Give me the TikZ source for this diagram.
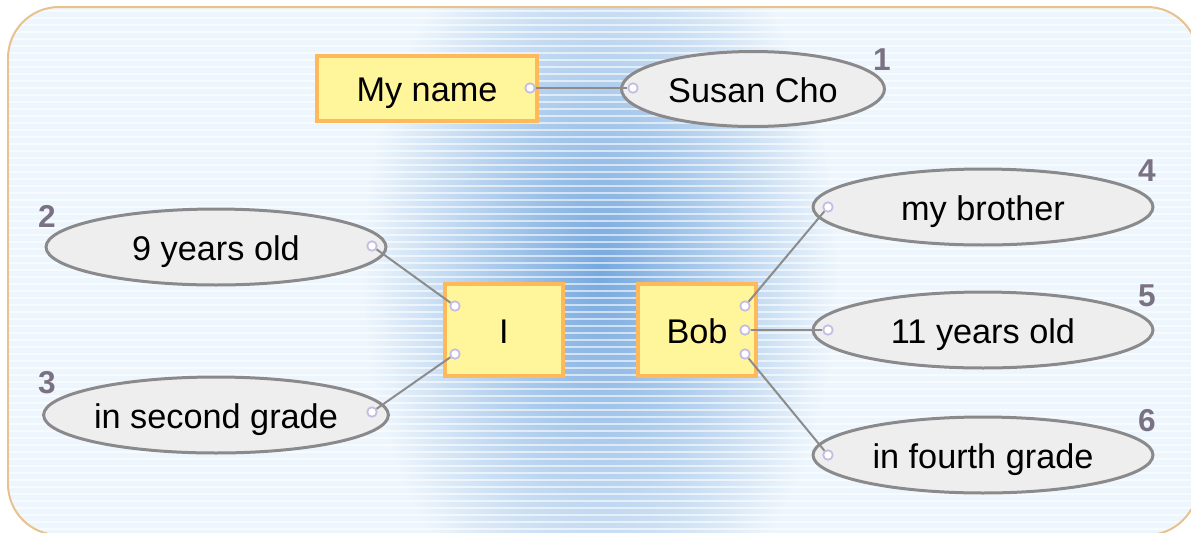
\documentclass[tikz,border=0pt]{standalone}
\usepackage{fontspec}
\setmainfont{Liberation Sans}
\usetikzlibrary{shapes.geometric}
\definecolor{bgfill}{RGB}{238,246,253}
\definecolor{frameline}{RGB}{232,194,140}
\definecolor{glow}{RGB}{118,168,222}
\definecolor{boxfill}{RGB}{255,245,155}
\definecolor{boxline}{RGB}{253,185,90}
\definecolor{ovalfill}{RGB}{238,238,238}
\definecolor{ovalline}{RGB}{138,138,140}
\definecolor{dotline}{RGB}{196,188,228}
\definecolor{numcol}{RGB}{122,114,132}
\begin{document}
\begin{tikzpicture}[x=0.02cm, y=-0.02cm,
    every node/.style={font=\fontsize{19.5}{23}\selectfont},
    label text/.style={text height=0.66cm, text depth=0.14cm},
    box/.style={label text, draw=boxline, fill=boxfill, line width=0.08cm, inner sep=0pt},
    oval/.style={label text, ellipse, draw=ovalline, fill=ovalfill, line width=0.06cm, inner sep=0pt,
        minimum width=6.8cm, minimum height=1.52cm},
    dot/.style={circle, draw=dotline, fill=white, line width=0.035cm, inner sep=0pt, minimum size=0.19cm},
    link/.style={draw=gray!90, line width=0.04cm},
    num/.style={text=numcol, font=\fontsize{18}{20}\selectfont\bfseries}]
\useasboundingbox (0,0) rectangle (1191,532);
% backdrop
\begin{scope}
    \clip[rounded corners=1.02cm] (8,7) rectangle (1198,535);
    \fill[bgfill] (8,7) rectangle (1198,535);
    \shade[inner color=glow, outer color=bgfill] (600,270) ellipse (4.8cm and 7.6cm);
    \foreach \yy in {11,18,...,530}
        \draw[white, line width=0.05cm, opacity=0.6] (8,\yy) -- (1198,\yy);
\end{scope}
\draw[frameline, line width=0.04cm, rounded corners=1.02cm] (8,7) rectangle (1198,535);

% boxes
\node[box, minimum width=4.42cm, minimum height=1.3cm] (name) at (427,88) {My name};
\node[box, minimum width=2.36cm, minimum height=1.84cm] (I) at (504,330) {I};
\node[box, minimum width=2.36cm, minimum height=1.84cm] (Bob) at (697,330) {Bob};

% ovals
\node[oval, minimum width=5.26cm, minimum height=1.5cm] (susan) at (753,89) {Susan Cho};
\node[oval] (nine) at (216,247) {9 years old};
\node[oval] (second) at (216,415) {in second grade};
\node[oval] (brother) at (983,207) {my brother};
\node[oval] (eleven) at (983,330) {11 years old};
\node[oval] (fourth) at (983,455) {in fourth grade};

% numbers
\node[num] (n1) at (882,60) {1};
\node[num] (n2) at (47,216) {2};
\node[num] (n3) at (47,383) {3};
\node[num] (n4) at (1147,171) {4};
\node[num] (n5) at (1147,296) {5};
\node[num] (n6) at (1147,421) {6};

% connection points
\node[dot] (pName) at (530,88) {};
\node[dot] (pSusan) at (633,88) {};
\node[dot] (pNine) at (372,246) {};
\node[dot] (pSecond) at (372,412) {};
\node[dot] (pIa) at (455,306) {};
\node[dot] (pIb) at (455,354) {};
\node[dot] (pBa) at (745,306) {};
\node[dot] (pBb) at (745,330) {};
\node[dot] (pBc) at (745,354) {};
\node[dot] (pBrother) at (828,207) {};
\node[dot] (pEleven) at (828,330) {};
\node[dot] (pFourth) at (828,455) {};

\draw[link] (pName) -- (pSusan);
\draw[link] (pNine) -- (pIa);
\draw[link] (pSecond) -- (pIb);
\draw[link] (pBa) -- (pBrother);
\draw[link] (pBb) -- (pEleven);
\draw[link] (pBc) -- (pFourth);
\end{tikzpicture}
\end{document}
